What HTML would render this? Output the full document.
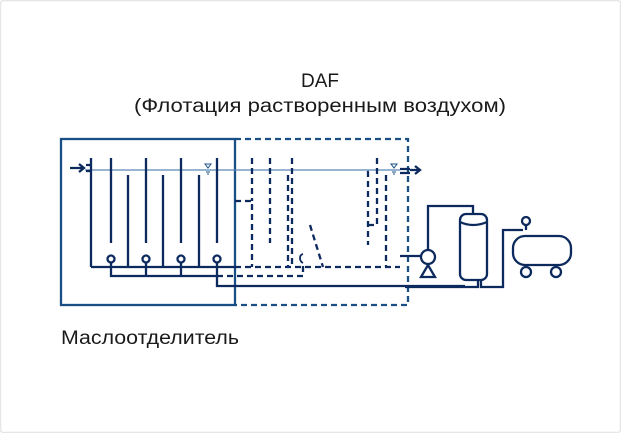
<!DOCTYPE html>
<html><head><meta charset="utf-8"><style>
html,body{margin:0;padding:0;background:#fff}
svg{display:block}
</style></head><body>
<svg width="621" height="433" viewBox="0 0 621 433" xmlns="http://www.w3.org/2000/svg">
<rect x="0.5" y="0.5" width="620" height="432" rx="3" fill="#fff" stroke="#e6e6e6" stroke-width="1.5"/>
<g font-family="Liberation Sans, sans-serif" font-size="19" fill="#1a1a1a">
<text x="320" y="87" text-anchor="middle">DAF</text>
<text x="320" y="112" text-anchor="middle" textLength="372" lengthAdjust="spacingAndGlyphs">(Флотация растворенным воздухом)</text>
<text x="61" y="344" textLength="178" lengthAdjust="spacingAndGlyphs">Маслоотделитель</text>
</g>
<g stroke="#0d2a5e" fill="none" stroke-width="2.3">
<rect x="61" y="139" width="174" height="166" stroke="#1a4f86"/>
<path d="M235 139 H408 V305 H235" stroke="#1a4f86" stroke-dasharray="6,4"/>
<line x1="85" y1="170" x2="400" y2="170" stroke="#5a86b5" stroke-width="1.2"/>
<path d="M70 168 H84 M79 164 L84 168 L79 172"/>
<path d="M86 165 H92 M86 171 H92"/>
<line x1="91" y1="158" x2="91" y2="267"/>
<line x1="111" y1="158" x2="111" y2="243"/>
<line x1="146" y1="158" x2="146" y2="243"/>
<line x1="181" y1="158" x2="181" y2="243"/>
<line x1="217" y1="158" x2="217" y2="243"/>
<line x1="128" y1="175" x2="128" y2="267"/>
<line x1="163" y1="175" x2="163" y2="267"/>
<line x1="199" y1="175" x2="199" y2="267"/>
<line x1="91" y1="267" x2="235" y2="267"/>
<g fill="#fff">
<circle cx="111" cy="259" r="3.5"/><circle cx="146" cy="259" r="3.5"/>
<circle cx="181" cy="259" r="3.5"/><circle cx="217" cy="259" r="3.5"/>
</g>
<path d="M111 263 V276 H217 M146 263 V276 M181 263 V276"/>
<path d="M217 263 V286 H465"/>
<g stroke-dasharray="6,4">
<line x1="235" y1="267" x2="400" y2="267"/>
<path d="M217 276 H303 V263"/>
<path d="M235 201 H252 V267"/>
<line x1="252" y1="158" x2="252" y2="201"/>
<line x1="270" y1="158" x2="270" y2="243"/>
<line x1="292" y1="158" x2="292" y2="267"/>
<line x1="288" y1="175" x2="288" y2="267"/>
<line x1="310" y1="225" x2="323" y2="267"/>
<path d="M369 172 H368 V245"/>
<path d="M368 225 H377 V158"/>
<line x1="386" y1="175" x2="386" y2="267"/>
</g>
<path d="M303 263 c-4 -2 -4 -8 0 -9" stroke-width="1.8"/>
<g stroke-width="1" stroke="#1a4f86">
<path d="M205 164 h6 l-3 4 z M206 172 h4 M207 174 h2"/>
<path d="M391 164 h6 l-3 4 z M392 172 h4 M393 174 h2"/>
</g>
<path d="M400 169 H410 M400 173 H410"/>
<path d="M410 170 H420 M415 166 L420 170 L415 174"/>
<path d="M400 256 H421"/>
<circle cx="428" cy="257" r="7" fill="#fff"/>
<path d="M421 277 H435 L428 265 Z" fill="#fff"/>
<path d="M428 250 V206 H473 V216"/>
<rect x="460" y="214" width="27" height="66" rx="6" fill="#fff"/>
<path d="M460 222 Q473 228 487 222"/>
<path d="M478 280 V287 H405 M481 280 V287 H503 V230 H523"/>
<path d="M526 230 V226"/>
<circle cx="526" cy="221" r="4" fill="#fff"/>
<rect x="513" y="236" width="58" height="29" rx="12" fill="#fff"/>
<circle cx="526" cy="272" r="5" fill="#fff"/>
<circle cx="556" cy="272" r="5" fill="#fff"/>
</g>
</svg>
</body></html>
